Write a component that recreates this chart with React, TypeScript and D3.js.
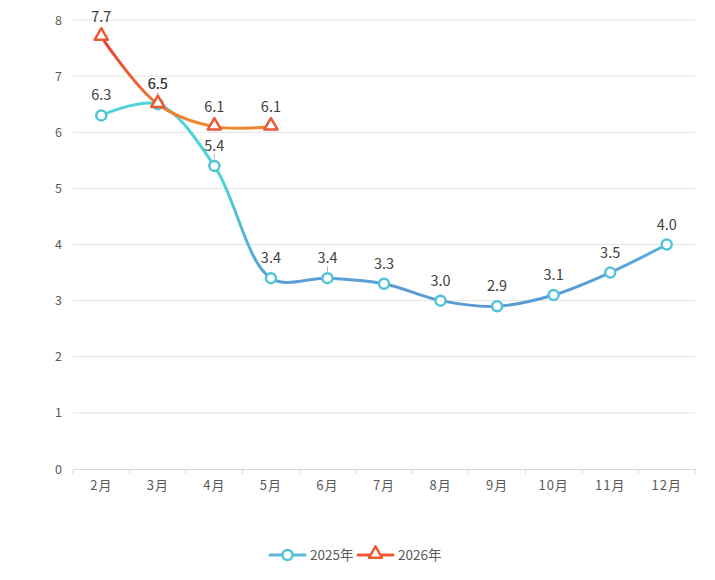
import { useEffect, useRef } from "react";
import * as d3 from "d3";

const months = ["2月", "3月", "4月", "5月", "6月", "7月", "8月", "9月", "10月", "11月", "12月"];
const values2025 = [6.3, 6.5, 5.4, 3.4, 3.4, 3.3, 3.0, 2.9, 3.1, 3.5, 4.0];
const values2026 = [7.7, 6.5, 6.1, 6.1];
const yTicks = [0, 1, 2, 3, 4, 5, 6, 7, 8];

const W = 715;
const H = 580;
const FONT = "'Noto Sans CJK SC', 'Noto Sans', sans-serif";

export default function App() {
  const svgRef = useRef<SVGSVGElement>(null);

  useEffect(() => {
    if (!svgRef.current) return;
    const svg = d3.select(svgRef.current);
    svg.selectAll("*").remove();

    // chart frame
    svg
      .append("rect")
      .attr("x", 1.5)
      .attr("y", 1.5)
      .attr("width", W - 3)
      .attr("height", H - 3)
      .attr("fill", "#fff")
      .attr("stroke", "#cfcfcf");

    const x = d3.scaleBand<string>().domain(months).range([73, 695]);
    const y = d3.scaleLinear().domain([0, 8]).range([469, 20]);
    const cx = (i: number) => x(months[i])! + x.bandwidth() / 2;

    const defs = svg.append("defs");
    const grad = (id: string, top: string, bottom: string, y1: number, y2: number) => {
      const g = defs
        .append("linearGradient")
        .attr("id", id)
        .attr("gradientUnits", "userSpaceOnUse")
        .attr("x1", 0)
        .attr("x2", 0)
        .attr("y1", y1)
        .attr("y2", y2);
      g.append("stop").attr("offset", "0%").attr("stop-color", top);
      g.append("stop").attr("offset", "100%").attr("stop-color", bottom);
    };
    grad("g2025", "#4fd3d9", "#5b9bd5", y(5.2), y(3.2));
    grad("g2026", "#e8413a", "#f0862c", y(7.6), y(6.2));

    // gridlines
    svg
      .append("g")
      .selectAll("line")
      .data(yTicks.filter((t) => t > 0))
      .join("line")
      .attr("x1", 73)
      .attr("x2", 695)
      .attr("y1", (d) => y(d))
      .attr("y2", (d) => y(d))
      .attr("stroke", "#e3e3e3")
      .attr("stroke-width", 1);

    // y axis labels
    svg
      .append("g")
      .selectAll("text")
      .data(yTicks)
      .join("text")
      .attr("x", 62)
      .attr("y", (d) => y(d) + 4.5)
      .attr("text-anchor", "end")
      .attr("font-size", 12.5)
      .attr("fill", "#595959")
      .attr("font-family", FONT)
      .text((d) => d);

    // x axis
    const xAxis = svg
      .append("g")
      .attr("transform", `translate(0,${y(0)})`)
      .call(d3.axisBottom(x).tickSize(0).tickPadding(12));
    xAxis.select(".domain").attr("stroke", "#d9d9d9");
    xAxis
      .selectAll("text")
      .attr("font-size", 13)
      .attr("fill", "#595959")
      .attr("font-family", FONT)
      .attr("letter-spacing", 1);
    xAxis
      .selectAll(".bound")
      .data(d3.range(months.length + 1))
      .join("line")
      .attr("x1", (i) => 73 + i * x.bandwidth())
      .attr("x2", (i) => 73 + i * x.bandwidth())
      .attr("y1", 0)
      .attr("y2", 5)
      .attr("stroke", "#d9d9d9");

    const line = d3
      .line<number>()
      .x((_, i) => cx(i))
      .y((d) => y(d))
      .curve(d3.curveCatmullRom.alpha(0.5));

    // leader lines (small gray)
    const leaders = [
      { i: 1, v: 6.5 },
      { i: 2, v: 5.4 },
      { i: 4, v: 3.4 },
    ];
    svg
      .append("g")
      .selectAll("line")
      .data(leaders)
      .join("line")
      .attr("x1", (d) => cx(d.i))
      .attr("x2", (d) => cx(d.i))
      .attr("y1", (d) => y(d.v) - 2)
      .attr("y2", (d) => y(d.v) - 12)
      .attr("stroke", "#a6a6a6")
      .attr("stroke-width", 0.8);

    // 2025
    svg
      .append("path")
      .attr("d", line(values2025))
      .attr("fill", "none")
      .attr("stroke", "url(#g2025)")
      .attr("stroke-width", 3)
      .attr("stroke-linecap", "round");

    svg
      .append("g")
      .selectAll("circle")
      .data(values2025)
      .join("circle")
      .attr("cx", (_, i) => cx(i))
      .attr("cy", (d) => y(d))
      .attr("r", 5)
      .attr("fill", "#fff")
      .attr("stroke", "#52c4d8")
      .attr("stroke-width", 2.5);

    // 2026
    svg
      .append("path")
      .attr("d", line(values2026))
      .attr("fill", "none")
      .attr("stroke", "url(#g2026)")
      .attr("stroke-width", 3)
      .attr("stroke-linecap", "round");

    const tri = d3.symbol().type(d3.symbolTriangle).size(75);
    svg
      .append("g")
      .selectAll("path")
      .data(values2026)
      .join("path")
      .attr("transform", (d, i) => `translate(${cx(i)},${y(d) - 1})`)
      .attr("d", tri())
      .attr("fill", "#fff")
      .attr("stroke", "#eb5a33")
      .attr("stroke-width", 2.5)
      .attr("stroke-linejoin", "round");

    // data labels
    const labels = (vals: number[]) =>
      svg
        .append("g")
        .selectAll("text")
        .data(vals)
        .join("text")
        .attr("x", (_, i) => cx(i))
        .attr("y", (d) => y(d) - 15)
        .attr("text-anchor", "middle")
        .attr("font-size", 14.5)
        .attr("fill", "#404040")
        .attr("font-family", FONT)
        .text((d) => d.toFixed(1));
    labels(values2025);
    labels(values2026);

    // legend
    const legend = svg.append("g").attr("transform", `translate(0,${555})`);
    const items = [
      { name: "2025年", marker: "circle", x0: 270 },
      { name: "2026年", marker: "tri", x0: 358 },
    ];
    items.forEach((it) => {
      legend
        .append("line")
        .attr("x1", it.x0)
        .attr("x2", it.x0 + 35)
        .attr("y1", 0)
        .attr("y2", 0)
        .attr("stroke", it.marker === "circle" ? "#5bbad8" : "#eb5a33")
        .attr("stroke-width", 3)
        .attr("stroke-linecap", "round");
      if (it.marker === "circle") {
        legend
          .append("circle")
          .attr("cx", it.x0 + 17.5)
          .attr("cy", 0)
          .attr("r", 5)
          .attr("fill", "#fff")
          .attr("stroke", "#52c4d8")
          .attr("stroke-width", 2.5);
      } else {
        legend
          .append("path")
          .attr("transform", `translate(${it.x0 + 17.5},-1)`)
          .attr("d", tri())
          .attr("fill", "#fff")
          .attr("stroke", "#eb5a33")
          .attr("stroke-width", 2.5)
          .attr("stroke-linejoin", "round");
      }
      legend
        .append("text")
        .attr("x", it.x0 + 40)
        .attr("y", 5)
        .attr("font-size", 13.5)
        .attr("fill", "#595959")
        .attr("font-family", FONT)
        .text(it.name);
    });
  }, []);

  return (
    <div style={{ width: W, height: H, margin: -8 }}>
      <svg ref={svgRef} width={W} height={H} style={{ display: "block" }} />
    </div>
  );
}
